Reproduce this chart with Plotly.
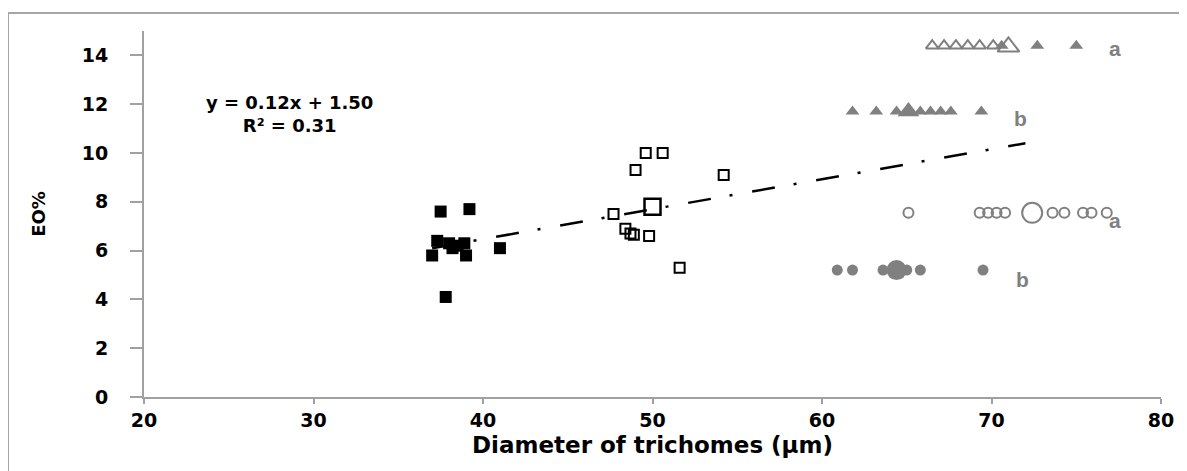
import plotly.graph_objects as go

# Filled black squares
fsq_x = [37.5, 39.2, 37.3, 38.0, 38.5, 38.9, 38.2, 37.0, 39.0, 41.0, 37.8]
fsq_y = [7.6, 7.7, 6.4, 6.3, 6.2, 6.3, 6.1, 5.8, 5.8, 6.1, 4.1]

# Open squares
osq_x = [49.6, 50.6, 49.0, 54.2, 47.7, 48.4, 48.7, 48.9, 49.8, 51.6]
osq_y = [10.0, 10.0, 9.3, 9.1, 7.5, 6.9, 6.7, 6.65, 6.6, 5.3]
osq_big_x = [50.0]
osq_big_y = [7.8]

# Triangles, group a (open) and filled
tri_a_open_x = [66.5, 67.2, 67.9, 68.6, 69.3, 70.1]
tri_a_open_y = [14.4, 14.4, 14.4, 14.4, 14.4, 14.4]
tri_a_big_x = [71.0]
tri_a_big_y = [14.35]
tri_a_fill_x = [70.6, 72.7, 75.0]
tri_a_fill_y = [14.4, 14.4, 14.4]

tri_b_x = [61.8, 63.2, 64.4, 65.8, 66.4, 67.0, 67.6, 69.4]
tri_b_y = [11.7, 11.7, 11.7, 11.7, 11.7, 11.7, 11.7, 11.7]
tri_b_big_x = [65.1]
tri_b_big_y = [11.7]

# Circles
cir_a_x = [65.1, 69.3, 69.8, 70.3, 70.8, 73.6, 74.3, 75.4, 75.9, 76.8]
cir_a_y = [7.55, 7.55, 7.55, 7.55, 7.55, 7.55, 7.55, 7.55, 7.55, 7.55]
cir_a_big_x = [72.4]
cir_a_big_y = [7.55]

cir_b_x = [60.9, 61.8, 63.6, 65.0, 65.8, 69.5]
cir_b_y = [5.2, 5.2, 5.2, 5.2, 5.2, 5.2]
cir_b_big_x = [64.4]
cir_b_big_y = [5.2]

# Trend line endpoints (as drawn)
trend_x = [37.0, 72.0]
trend_y = [6.1, 10.4]

# Group letters
letter_x = [77.3, 71.7, 77.3, 71.8]
letter_y = [14.3, 11.4, 7.25, 4.8]
letter_t = ["a", "b", "a", "b"]

x_ticks = [20, 30, 40, 50, 60, 70, 80]
y_ticks = [0, 2, 4, 6, 8, 10, 12, 14]

GRAY = "#808080"
fig = go.Figure()

def add(x, y, symbol, size, color, line_color=None, line_w=0):
    fig.add_trace(go.Scatter(
        x=x, y=y, mode="markers", showlegend=False, hoverinfo="x+y",
        marker=dict(symbol=symbol, size=size, color=color,
                    line=dict(color=line_color or color, width=line_w))))

fig.add_trace(go.Scatter(x=trend_x, y=trend_y, mode="lines", showlegend=False,
                         line=dict(color="black", width=2.5, dash="23px,19px,3px,20px")))

add(fsq_x, fsq_y, "square", 12, "black")
add(osq_x, osq_y, "square-open", 10, "black", "black", 2)
add(osq_big_x, osq_big_y, "square-open", 16, "black", "black", 2.5)
add(tri_a_open_x, tri_a_open_y, "triangle-up-open", 11, GRAY, GRAY, 2)
add(tri_a_fill_x, tri_a_fill_y, "triangle-up", 12, GRAY)
add(tri_a_big_x, tri_a_big_y, "triangle-up-open", 19, GRAY, GRAY, 2)
add(tri_b_x, tri_b_y, "triangle-up", 12, GRAY)
add(tri_b_big_x, tri_b_big_y, "triangle-up", 19, GRAY)
add(cir_a_x, cir_a_y, "circle-open", 10, GRAY, GRAY, 2)
add(cir_a_big_x, cir_a_big_y, "circle-open", 20, GRAY, GRAY, 2)
add(cir_b_x, cir_b_y, "circle", 11, GRAY)
add(cir_b_big_x, cir_b_big_y, "circle", 20, GRAY)

for lx, ly, lt in zip(letter_x, letter_y, letter_t):
    fig.add_annotation(x=lx, y=ly, text=f"<b>{lt}</b>", showarrow=False, xref="x", yref="y",
                       font=dict(family="Liberation Sans", size=21, color=GRAY))

fig.add_annotation(x=28.6, y=11.6, xref="x", yref="y", showarrow=False,
                   text="<b>y = 0.12x + 1.50</b><br><b>R² = 0.31</b>",
                   align="center",
                   font=dict(family="DejaVu Sans", size=18, color="black"))

# outer frame
fig.add_shape(type="rect", xref="paper", yref="paper",
              x0=-0.1337, y0=-0.3, x1=1.1, y1=1.049,
              line=dict(color="#a6a6a6", width=2), layer="below")

fig.update_layout(
    width=1187, height=471,
    margin=dict(l=136, r=34, t=23, b=82),
    paper_bgcolor="white", plot_bgcolor="white",
    font=dict(family="DejaVu Sans", color="black"),
    xaxis=dict(range=[20, 80], tickvals=x_ticks, ticktext=[f"<b>{v}</b>" for v in x_ticks],
               automargin=False,
               showgrid=False, zeroline=False, showline=True, linecolor="#a0a0a0", linewidth=2,
               ticks="outside", ticklen=5, tickcolor="#a0a0a0", tickwidth=2,
               tickfont=dict(family="DejaVu Sans", size=19, color="black"),
               title=dict(text="<b>Diameter of trichomes (µm)</b>", standoff=7,
                          font=dict(family="DejaVu Sans", size=23, color="black"))),
    yaxis=dict(range=[0, 15], tickvals=y_ticks, ticktext=[f"<b>{v}</b>" for v in y_ticks],
               automargin=False,
               showgrid=False, zeroline=False, showline=True, linecolor="#a0a0a0", linewidth=2,
               ticks="outside", ticklen=12, tickcolor="#a0a0a0", tickwidth=2,
               ticklabelstandoff=18,
               tickfont=dict(family="DejaVu Sans", size=19, color="black"),
               title=dict(text="<b>EO%</b>", standoff=31,
                          font=dict(family="DejaVu Sans", size=18, color="black"))),
)

fig.write_html("out.html")
